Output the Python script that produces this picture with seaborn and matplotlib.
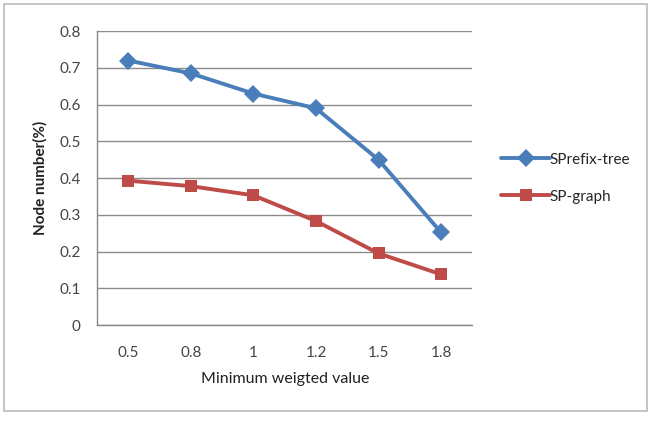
import pandas as pd
import numpy as np
import seaborn as sns
import matplotlib.pyplot as plt
from matplotlib.patches import Rectangle

# values
weights = ['0.5', '0.8', '1', '1.2', '1.5', '1.8']
sprefix_tree = [0.72, 0.685, 0.63, 0.59, 0.45, 0.252]
sp_graph = [0.393, 0.378, 0.353, 0.283, 0.195, 0.138]

df = pd.DataFrame({
    'weight': weights * 2,
    'value': sprefix_tree + sp_graph,
    'series': ['SPrefix-tree'] * len(weights) + ['SP-graph'] * len(weights),
})

sns.set_style('white')
plt.rcParams['font.family'] = ['Lato', 'DejaVu Sans']

fig = plt.figure(figsize=(6.56, 4.21), dpi=100)
ax = fig.add_axes([0.148, 0.228, 0.572, 0.698])

palette = {'SPrefix-tree': '#4A7EBB', 'SP-graph': '#BE4B48'}
sns.lineplot(data=df, x='weight', y='value', hue='series', style='series',
             markers={'SPrefix-tree': 'D', 'SP-graph': 's'}, dashes=False,
             palette=palette, linewidth=2.8, markersize=9, markeredgewidth=0,
             sort=False, ax=ax)

ax.set_ylim(0, 0.8)
ax.set_yticks(np.arange(0, 0.81, 0.1))
ax.set_yticklabels(['0'] + [f'{v:.1f}' for v in np.arange(0.1, 0.81, 0.1)])
ax.set_xlim(-0.5, len(weights) - 0.5)
ax.set_xticks(range(len(weights)))
ax.set_xticks(np.arange(-0.5, len(weights), 1), minor=True)
ax.tick_params(axis='x', which='major', length=0, pad=15, labelsize=11, colors='#444444')
ax.tick_params(axis='x', which='minor', length=5, color='#888888', direction='out')
ax.tick_params(axis='y', length=6, color='#888888', labelsize=11, colors='#444444', pad=6)
ax.yaxis.grid(True, color='#8c8c8c', linewidth=1)
ax.set_axisbelow(True)
for s in ['top', 'right']:
    ax.spines[s].set_visible(False)
for s in ['left', 'bottom']:
    ax.spines[s].set_color('#888888')
    ax.spines[s].set_linewidth(1)

ax.set_xlabel('Minimum weigted value', fontsize=11.5, color='#222222', labelpad=9)
ax.set_ylabel('Node number(%)', fontsize=11, fontweight='bold', color='#222222', labelpad=8)

handles, labels = ax.get_legend_handles_labels()
ax.legend(handles, labels, loc='center left', bbox_to_anchor=(1.04, 0.5),
          frameon=False, fontsize=11, handlelength=3.2, handletextpad=0.0,
          labelspacing=1.5)

fig.patches.append(Rectangle((0.006, 0.024), 0.98, 0.967, transform=fig.transFigure,
                             fill=False, edgecolor='#bbbbbb', linewidth=1.2))

fig.savefig('out.png', dpi=100)
